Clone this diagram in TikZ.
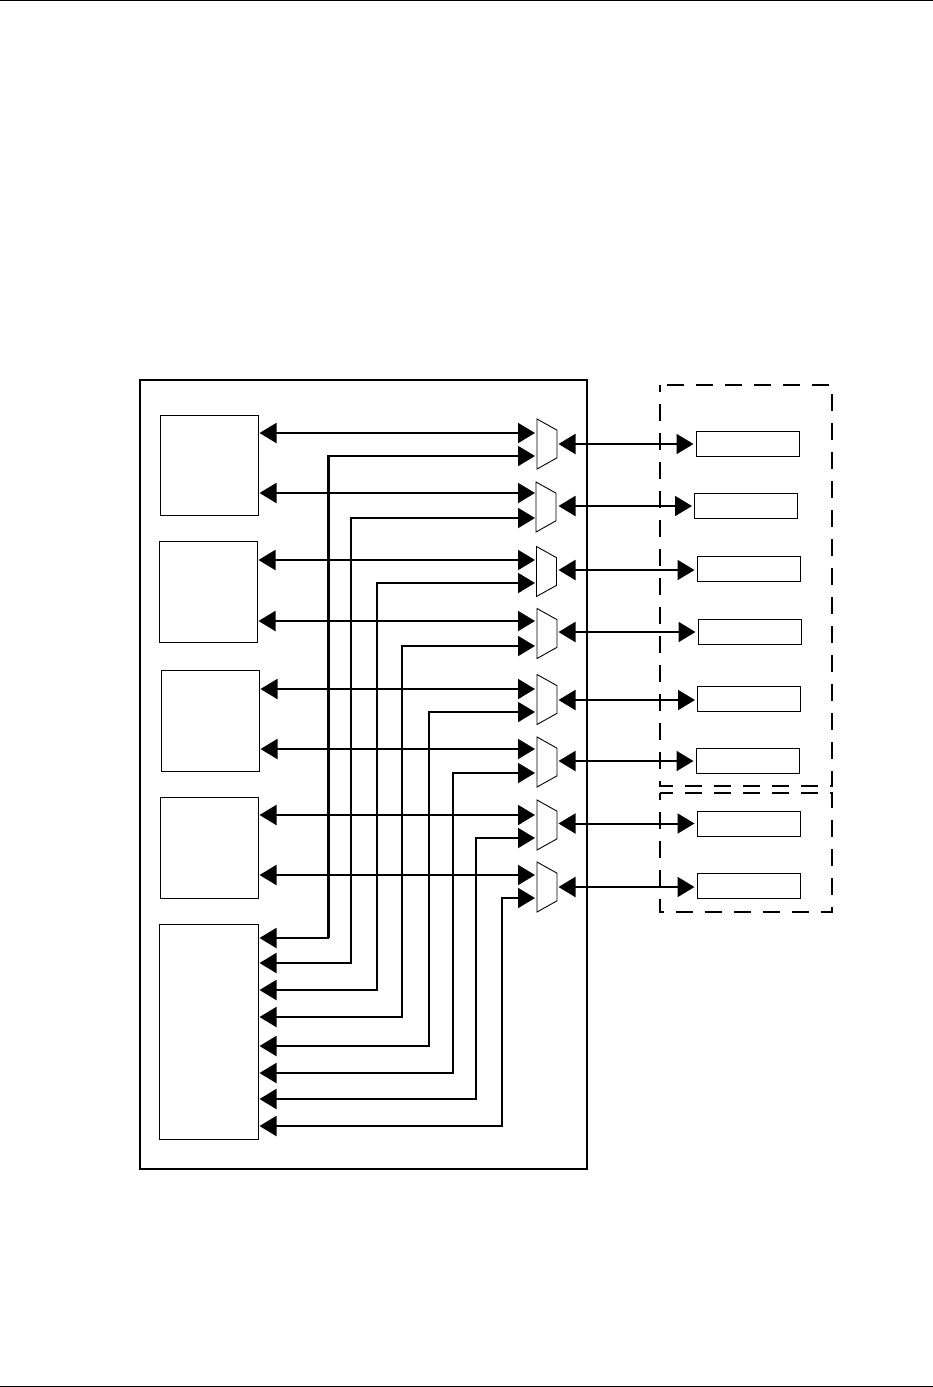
\documentclass[tikz,border=0pt]{standalone}
\usepackage{tikz}
\usetikzlibrary{arrows.meta, shapes.geometric, calc}

\begin{document}
\begin{tikzpicture}[
      x=1pt, y=-1pt,
      block/.style={rectangle, draw, line width=1pt, inner sep=0pt, outer sep=0pt, minimum width=98pt},
      slot/.style={block, minimum width=103pt, minimum height=25pt},
      mux/.style={trapezium, draw, line width=0.9pt, inner sep=1pt, outer sep=0pt, trapezium stretches=true,
        trapezium angle=68, shape border rotate=270, minimum width=50pt, minimum height=20pt},
      bus/.style={line width=2pt, {Triangle[length=17pt,width=20pt]}-{Triangle[length=17pt,width=20pt]},
        shorten <=1.5pt, shorten >=1.5pt},
      group/.style={line width=2pt, dash pattern=on 17pt off 12pt, dash phase=10pt}
    ]
      \useasboundingbox (0,0) rectangle (933,1387);
      \draw[line width=1pt] (0,0.5) -- (933,0.5);
      \draw[line width=1pt] (0,1386) -- (933,1386);

      % outer frame and the two dashed groups
      \node[draw, line width=2pt, inner sep=0pt, outer sep=0pt, minimum width=447pt, minimum height=789pt] (chip) at (363.5,774.5) {};
      \draw[group] (660,385) rectangle (832,785.5);
      \draw[group] (660,792.5) rectangle (832,912);

      % blocks on the left
      \node[block, minimum height=100pt] (b1) at (209,465) {};
      \node[block, minimum height=101pt] (b2) at (208,591.5) {};
      \node[block, minimum height=101pt] (b3) at (210,720.5) {};
      \node[block, minimum height=101pt] (b4) at (209,847.5) {};
      \node[block, minimum height=215pt, minimum width=99pt] (b5) at (208.5,1031.5) {};

      \foreach \i/\mx/\my/\rx/\ry/\src/\ya/\yb/\yc/\xv/\yv in {
          1/547/444/747.5/443.5/b1/433/456/444/328/938,
          2/546/507/746/506/b1/493/518/506/351/963,
          3/546.5/571.5/748.5/568.5/b2/560/583/570/377/990,
          4/547/633.5/749.5/631.5/b2/621/646/632/402/1017,
          5/547/699.5/749/698.5/b3/689/712/700/429/1046,
          6/547/762/747.5/760.5/b3/749/773/761/453/1073,
          7/547/825/748.5/823.5/b4/815/838/823.5/476/1099,
          8/547/887/748.5/886/b4/875/898/887/502/1126} {
        \node[mux] (m\i) at (\mx,\my) {};
        \node[slot] (r\i) at (\rx,\ry) {};
        \coordinate (pa\i) at (536.5,\ya);
        \coordinate (pb\i) at (536.5,\yb);
        \coordinate (pc\i) at (557,\yc);
        \coordinate (q\i) at (\xv,\yv);
        \draw[bus] (\src.east |- pa\i) -- (pa\i);
        \draw[bus] (b5.east |- q\i) -- (q\i) |- (pb\i);
        \draw[bus, shorten >=2.5pt] (pc\i) -- (pc\i -| r\i.west);
      }
      \draw[line width=3pt] (q1) -- (q1 |- pb1);
    \end{tikzpicture}
\end{document}
